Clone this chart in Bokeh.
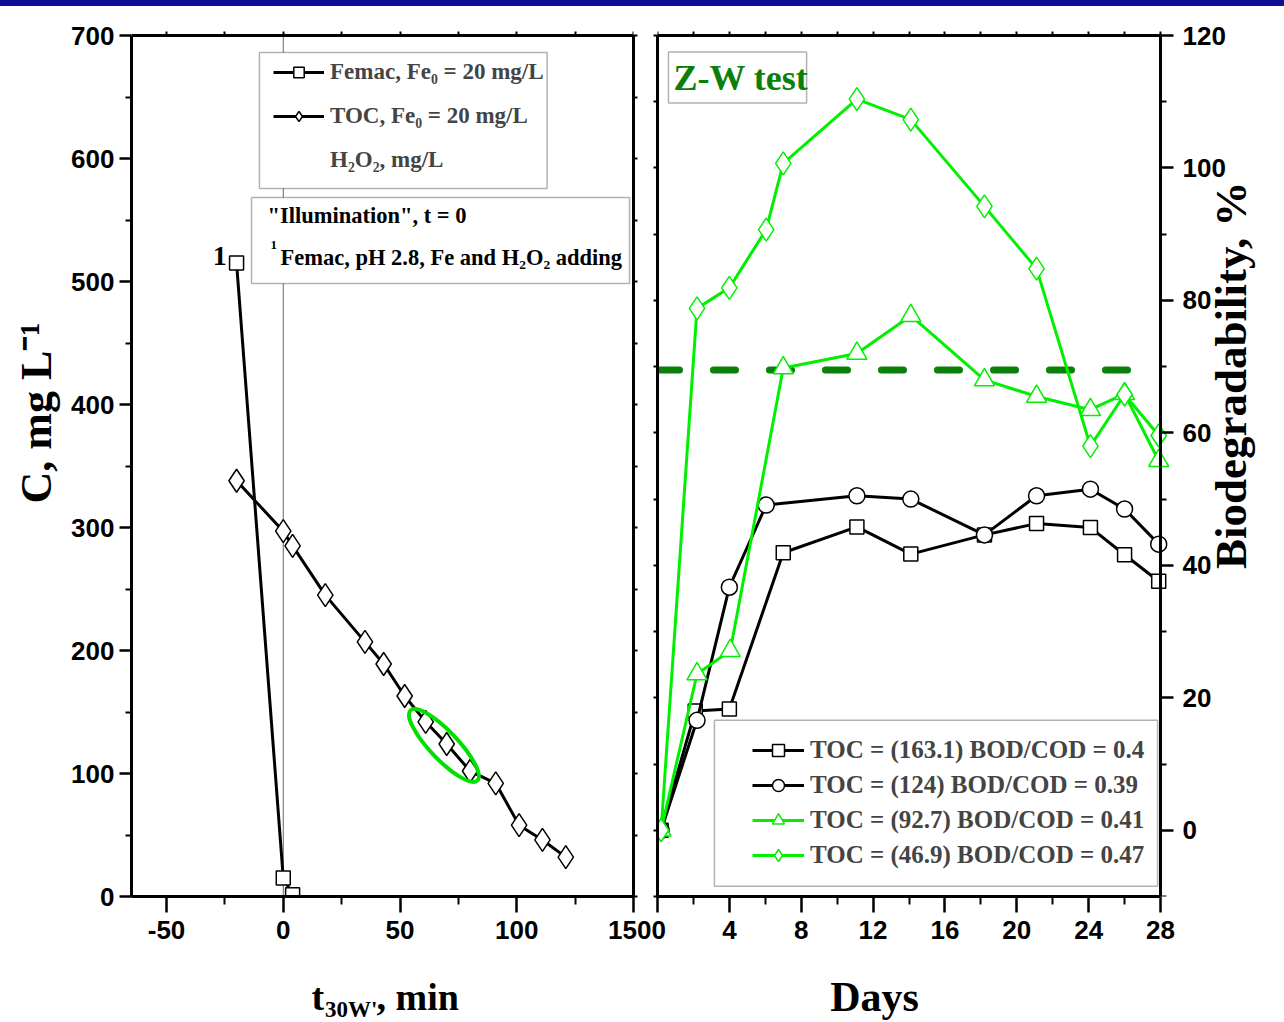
import math
from bokeh.plotting import figure
from bokeh.models import (Range1d, LinearAxis, FixedTicker, BoxAnnotation,
                          Label, Legend, LegendItem, Div)
from bokeh.layouts import row, column
from bokeh.embed import file_html
from bokeh.resources import INLINE

# ---------------- data: left panel (t30W, min vs C, mg/L) ----------------
femac_t = [-20, 0, 4]
femac_c = [515, 15, 1.5]
toc_t = [-20, 0, 4, 18, 35, 43, 52, 61, 70, 80, 91, 101, 111, 121]
toc_c = [338, 297, 285, 245, 207, 189, 163, 142, 124, 102, 92, 58, 46, 32]
highlight_t = [68.8]
highlight_c = [122.8]
illum_t = [0, 0]          # "illumination" start marker, t = 0
illum_c = [0, 700]

left_x_ticks = [-50, 0, 50, 100, 150]
left_x_minor = [-25, 25, 75, 125]
left_y_ticks = [0, 100, 200, 300, 400, 500, 600, 700]
left_y_minor = [50, 150, 250, 350, 450, 550, 650]
left_legend_labels = ["Femac, Fe₀ = 20 mg/L", "TOC, Fe₀ = 20 mg/L", "H₂O₂, mg/L"]

# ---------------- data: right panel (Days vs Biodegradability, %) ----------------
days_sq = [0.2, 2.1, 4.0, 7.0, 11.1, 14.1, 18.2, 21.1, 24.1, 26.0, 27.9]
bd_sq = [0, 18.0, 18.3, 41.9, 45.8, 41.7, 44.6, 46.3, 45.7, 41.6, 37.6]
days_ci = [0.2, 2.2, 4.0, 6.05, 11.1, 14.1, 18.2, 21.1, 24.1, 26.0, 27.9]
bd_ci = [0, 16.6, 36.7, 49.1, 50.5, 50.0, 44.6, 50.5, 51.5, 48.5, 43.2]
days_tr = [0.2, 2.2, 4.05, 7.0, 11.1, 14.1, 18.2, 21.1, 24.1, 26.0, 27.9]
bd_tr = [0, 23.6, 27.1, 69.8, 72.0, 77.7, 68.0, 65.5, 63.5, 65.9, 55.8]
days_di = [0.2, 2.2, 4.0, 6.05, 7.0, 11.1, 14.1, 18.2, 21.1, 24.1, 26.0, 27.9]
bd_di = [0, 78.8, 81.9, 90.7, 100.7, 110.4, 107.3, 94.2, 84.8, 58.0, 65.8, 59.6]
threshold_days = [0, 27]
threshold_bd = [69.5, 69.5]

right_x_ticks = [0, 4, 8, 12, 16, 20, 24, 28]
right_x_minor = [2, 6, 10, 14, 18, 22, 26]
right_y_ticks = [0, 20, 40, 60, 80, 100, 120]
right_y_minor = [-10, 10, 30, 50, 70, 90, 110]
right_legend_labels = ["TOC = (163.1) BOD/COD = 0.4",
                       "TOC = (124) BOD/COD = 0.39",
                       "TOC = (92.7) BOD/COD = 0.41",
                       "TOC = (46.9) BOD/COD = 0.47"]

SERIF = "Liberation Serif"
SANS = "Liberation Sans"
GREEN = "#00F000"
DKGREEN = "#0A7F0A"
NBSP = "\u00a0"

# frames: top edge of the canvas (6 px) .. 896 px; plotted box tops at 35 px
FRAME_PX = 890
BOX_PX = 861


def style_axis(ax, out, minor_out, standoff):
    ax.axis_line_width = 3
    ax.axis_line_color = "black"
    ax.major_tick_line_width = 2.5
    ax.minor_tick_line_width = 2
    ax.major_tick_line_color = "black"
    ax.minor_tick_line_color = "black"
    ax.major_tick_out = out
    ax.major_tick_in = 0
    ax.minor_tick_out = minor_out
    ax.minor_tick_in = 0
    ax.major_label_text_font = SANS
    ax.major_label_text_font_style = "bold"
    ax.major_label_text_font_size = "26px"
    ax.major_label_text_color = "black"
    ax.major_label_standoff = standoff
    ax.axis_label_text_font = SERIF
    ax.axis_label_text_font_style = "bold"
    ax.axis_label_text_color = "black"


def mirror(ticks, tick_out=4, tick_in=0, **kw):
    return LinearAxis(ticker=FixedTicker(ticks=ticks, minor_ticks=[]),
                      major_label_overrides={t: "" for t in ticks},
                      major_label_text_font_size="1px", major_label_standoff=0,
                      major_tick_out=tick_out, major_tick_in=tick_in,
                      minor_tick_out=0, minor_tick_in=0,
                      axis_line_width=3, axis_line_color="black",
                      major_tick_line_width=2, major_tick_line_color="black", **kw)


def serif_label(fig, x, y, text, size, **kw):
    lab = Label(x=x, y=y, text=text, text_font=SERIF, text_font_style="bold",
                text_font_size=f"{size}px", text_color=kw.pop("color", "black"), **kw)
    fig.add_layout(lab)
    return lab


def base_fig(**kw):
    p = figure(output_backend="svg", toolbar_location=None, **kw)
    p.grid.visible = False
    p.outline_line_color = None
    p.background_fill_color = "white"
    p.border_fill_color = "white"
    return p


# ======================= left figure =======================
C_MIN, C_MAX = 0, 700
c_top = C_MAX + (C_MAX - C_MIN) * (FRAME_PX - BOX_PX) / BOX_PX
p1 = base_fig(width=651, height=950, x_range=Range1d(-65, 150), y_range=Range1d(C_MIN, c_top),
              min_border_left=131, min_border_right=18, min_border_top=0, min_border_bottom=60)
ax_b1 = p1.below[0]
ax_l1 = p1.left[0]
ax_b1.ticker = FixedTicker(ticks=left_x_ticks, minor_ticks=left_x_minor)
ax_b1.major_label_overrides = {t: str(t) for t in left_x_ticks}
ax_l1.ticker = FixedTicker(ticks=left_y_ticks, minor_ticks=left_y_minor)
ax_l1.bounds = (C_MIN, C_MAX)
style_axis(ax_b1, 16, 8, 8)
style_axis(ax_l1, 12, 6, 5)
ax_l1.axis_label = NBSP * 7 + "C, mg L⁻¹"
ax_l1.axis_label_text_font_size = "44px"
ax_l1.axis_label_standoff = 7
p1.add_layout(mirror(list(range(-50, 151, 25)), tick_out=0, tick_in=4,
                     fixed_location=C_MAX), "below")
p1.add_layout(mirror(list(range(0, 701, 50)), bounds=(C_MIN, C_MAX)), "right")

p1.line(illum_t, illum_c, line_color="#666666", line_width=1, level="underlay")

l_fem = p1.line(femac_t, femac_c, line_color="black", line_width=3)
s_fem = p1.scatter(femac_t, femac_c, marker="square", size=14, fill_color="white",
                   line_color="black", line_width=1.5)
l_toc = p1.line(toc_t, toc_c, line_color="black", line_width=3)
s_toc = p1.scatter(toc_t, toc_c, marker="diamond", size=23, fill_color="white",
                   line_color="black", line_width=1.5)
p1.ellipse(x=highlight_t, y=highlight_c, width=97, height=28, angle=-0.81,
           width_units="screen", height_units="screen", fill_color=None,
           line_color="#00E000", line_width=4)

# legend box 1
p1.add_layout(BoxAnnotation(left=-10.2, right=113, top=686.2, bottom=575.6,
                            fill_color="white", fill_alpha=1,
                            line_color="black", line_width=1.5))
leg1 = Legend(items=[LegendItem(label=left_legend_labels[0], renderers=[l_fem, s_fem]),
                     LegendItem(label=left_legend_labels[1], renderers=[l_toc, s_toc]),
                     LegendItem(label=left_legend_labels[2], renderers=[])],
              location=(132, 712), glyph_width=51, glyph_height=26, label_height=28,
              spacing=16, padding=10, margin=0, label_standoff=6,
              label_text_font=SERIF, label_text_font_style="bold",
              label_text_font_size="23px", border_line_alpha=0, background_fill_alpha=0)
p1.add_layout(leg1)

# box 2 (illumination note)
p1.add_layout(BoxAnnotation(left=-13.6, right=148.3, top=568.3, bottom=498.4,
                            fill_color="white", fill_alpha=1,
                            line_color="black", line_width=1.5))
serif_label(p1, -6.8, 553.7, '"Illumination", t = 0', 22.5, text_baseline="middle")
serif_label(p1, -5.5, 530, "1", 13, text_baseline="middle")
serif_label(p1, -1.2, 519.5, "Femac,  pH 2.8, Fe and H₂O₂ adding", 22.5, text_baseline="middle")
serif_label(p1, femac_t[0] - 4.2, femac_c[0] + 6, "1", 28, text_align="right",
            text_baseline="middle")

# ======================= right figure =======================
# frame runs to the canvas' right/top edges so that the rotated axis title can sit inside it;
# the visible spines are axes pinned at day 28 / 120 %.
X_MAX, Y_MIN, Y_MAX = 28, -10, 120
x_end = X_MAX * 627 / 503              # frame 657..1284 px, day 28 at 1160 px
y_top = Y_MAX + (Y_MAX - Y_MIN) * (FRAME_PX - BOX_PX) / BOX_PX
p2 = base_fig(width=633, height=950, x_range=Range1d(0, x_end), y_range=Range1d(Y_MIN, y_top),
              y_axis_location=None,
              min_border_left=6, min_border_right=0, min_border_top=0, min_border_bottom=60)

ax_b2 = p2.below[0]
ax_b2.ticker = FixedTicker(ticks=right_x_ticks, minor_ticks=right_x_minor)
ax_b2.bounds = (0, X_MAX)
style_axis(ax_b2, 16, 8, 8)

right_ax = LinearAxis(fixed_location=X_MAX, bounds=(Y_MIN, Y_MAX),
                      ticker=FixedTicker(ticks=right_y_ticks, minor_ticks=right_y_minor))
style_axis(right_ax, 13, 6, 9)
p2.add_layout(right_ax, "right")
p2.add_layout(mirror(list(range(0, 29, 2)), tick_out=0, tick_in=4,
                     fixed_location=Y_MAX, bounds=(0, X_MAX)), "below")
p2.add_layout(mirror(list(range(-10, 121, 10)), bounds=(Y_MIN, Y_MAX)), "left")

p2.line(threshold_days, threshold_bd, line_color=DKGREEN, line_width=7,
        line_dash="22 34", line_cap="round")

r_l1 = p2.line(days_sq, bd_sq, line_color="black", line_width=3)
r_s1 = p2.scatter(days_sq, bd_sq, marker="square", size=14, fill_color="white",
                  line_color="black", line_width=1.5)
r_l2 = p2.line(days_ci, bd_ci, line_color="black", line_width=3)
r_s2 = p2.scatter(days_ci, bd_ci, marker="circle", size=16, fill_color="white",
                  line_color="black", line_width=1.5)
r_l3 = p2.line(days_tr, bd_tr, line_color=GREEN, line_width=3)
r_s3 = p2.scatter(days_tr, bd_tr, marker="triangle", size=20, fill_color="white",
                  line_color=GREEN, line_width=1.5)
r_l4 = p2.line(days_di, bd_di, line_color=GREEN, line_width=3)
r_s4 = p2.scatter(days_di, bd_di, marker="diamond", size=23, fill_color="white",
                  line_color=GREEN, line_width=1.5)

p2.add_layout(BoxAnnotation(left=3.17, right=27.84, top=16.6, bottom=-8.47,
                            fill_color="white", fill_alpha=1,
                            line_color="black", line_width=1.5))
leg2 = Legend(items=[LegendItem(label=right_legend_labels[0], renderers=[r_l1, r_s1]),
                     LegendItem(label=right_legend_labels[1], renderers=[r_l2, r_s2]),
                     LegendItem(label=right_legend_labels[2], renderers=[r_l3, r_s3]),
                     LegendItem(label=right_legend_labels[3], renderers=[r_l4, r_s4])],
              location=(85, 16), glyph_width=52, glyph_height=30, label_height=30,
              spacing=5, padding=10, margin=0, label_standoff=6,
              label_text_font=SERIF, label_text_font_style="bold",
              label_text_font_size="25px", border_line_alpha=0, background_fill_alpha=0)
p2.add_layout(leg2)

# "Z-W test" tag
p2.add_layout(BoxAnnotation(left=0.61, right=8.3, top=117.5, bottom=109.8,
                            fill_alpha=0, line_color="black", line_width=1.5))
serif_label(p2, 0.89, 113.6, "Z-W test", 36, color=DKGREEN, text_baseline="middle")

# right axis title (inside the extended frame)
serif_label(p2, 31.9, 68.7, "Biodegradability, %", 45, angle=math.pi / 2,
            text_align="center", text_baseline="middle")

# ======================= bottom strip with x-axis titles =======================
strip = figure(width=1284, height=66, x_range=Range1d(0, 1284), y_range=Range1d(1022, 956),
               output_backend="svg", toolbar_location=None, x_axis_type=None, y_axis_type=None,
               min_border=0)
strip.grid.visible = False
strip.outline_line_color = None
strip.background_fill_color = "white"
strip.border_fill_color = "white"
serif_label(strip, 311, 996, "t", 38, text_baseline="alphabetic")
serif_label(strip, 324.5, 1009, "30W'", 23, text_baseline="alphabetic")
serif_label(strip, 376, 996, ", min", 38, text_baseline="alphabetic")
serif_label(strip, 874, 996, "Days", 42, text_align="center", text_baseline="alphabetic")

bar = Div(text="", width=1284, height=6, margin=(0, 0, 0, 0),
          styles={"background-color": "#0E0E96"})
layout = column(bar, row(p1, p2, spacing=0), strip, spacing=0)

with open("out.html", "w", encoding="utf-8") as f:
    f.write(file_html(layout, INLINE, "chart"))
